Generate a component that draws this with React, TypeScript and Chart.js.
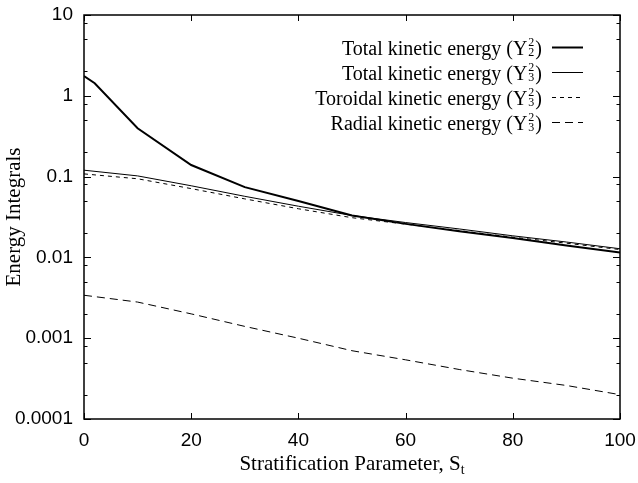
import { useEffect, useRef } from 'react';
import { Chart, registerables } from 'chart.js';

Chart.register(...registerables);

// ---- data ----
const sValuesY22 = [0, 2, 10, 20, 30, 40, 50, 60, 70, 80, 90, 100];
const totalY22 = [1.76, 1.43, 0.396, 0.139, 0.074, 0.05, 0.033, 0.026, 0.021, 0.0174, 0.014, 0.0115];

const sValuesY32 = [0, 10, 20, 30, 40, 50, 60, 70, 80, 90, 100];
const totalY32 = [0.12, 0.102, 0.077, 0.057, 0.043, 0.033, 0.027, 0.0225, 0.0185, 0.0155, 0.0128];
const toroidalY32 = [0.108, 0.094, 0.071, 0.053, 0.04, 0.031, 0.0258, 0.0215, 0.0178, 0.015, 0.0125];
const radialY32 = [0.0034, 0.0028, 0.002, 0.0014, 0.001, 0.0007, 0.00054, 0.00041, 0.00032, 0.00026, 0.0002];

const xTickValues = [0, 20, 40, 60, 80, 100];
const yTickValues = [0.0001, 0.001, 0.01, 0.1, 1, 10];
const yTickLabels = ['0.0001', '0.001', '0.01', '0.1', '1', '10'];
const yMinorMultipliers = [2, 5, 8];

const legendNames = [
  'Total kinetic energy',
  'Total kinetic energy',
  'Toroidal kinetic energy',
  'Radial kinetic energy',
];
const legendSup = ['2', '2', '2', '2'];
const legendSub = ['2', '3', '3', '3'];

const xTitleMain = 'Stratification Parameter, S';
const xTitleSub = 't';
const yTitle = 'Energy Integrals';

const SANS = '"Liberation Sans", Arial, sans-serif';
const SERIF = '"Liberation Serif", "Times New Roman", serif';

const lineWidths = [2, 1, 1, 1];
const lineDashes: number[][] = [[], [], [4, 4], [8, 5]];

const framePlugin = {
  id: 'framePlugin',
  afterDraw(chart: any) {
    const { ctx, chartArea: a, scales } = chart;
    const xs = scales.x;
    const ys = scales.y;
    ctx.save();
    ctx.strokeStyle = '#000';
    ctx.setLineDash([]);
    // ticks
    ctx.lineWidth = 1;
    ctx.beginPath();
    for (const v of xTickValues) {
      const px = Math.round(xs.getPixelForValue(v)) + 0.5;
      ctx.moveTo(px, a.bottom);
      ctx.lineTo(px, a.bottom - 6);
      ctx.moveTo(px, a.top);
      ctx.lineTo(px, a.top + 6);
    }
    for (const v of yTickValues) {
      const py = Math.round(ys.getPixelForValue(v)) + 0.5;
      ctx.moveTo(a.left, py);
      ctx.lineTo(a.left + 7, py);
      ctx.moveTo(a.right, py);
      ctx.lineTo(a.right - 7, py);
      for (const m of yMinorMultipliers) {
        const mv = v * m;
        if (mv >= 10) continue;
        const my = Math.round(ys.getPixelForValue(mv)) + 0.5;
        ctx.moveTo(a.left, my);
        ctx.lineTo(a.left + 3.5, my);
        ctx.moveTo(a.right, my);
        ctx.lineTo(a.right - 3.5, my);
      }
    }
    ctx.stroke();
    // frame
    ctx.lineWidth = 1.5;
    ctx.strokeRect(a.left, a.top, a.right - a.left, a.bottom - a.top);

    // legend
    const textRight = a.right - 78;
    const sampleL = a.right - 68;
    const sampleR = a.right - 37;
    ctx.fillStyle = '#000';
    ctx.textBaseline = 'alphabetic';
    for (let i = 0; i < legendNames.length; i++) {
      const ly = a.top + 32 + i * 25;
      const base = ly + 8;
      ctx.font = `20px ${SERIF}`;
      ctx.textAlign = 'right';
      const wParen = ctx.measureText(')').width;
      ctx.fillText(')', textRight, base);
      ctx.font = `12px ${SERIF}`;
      const wSup = Math.max(ctx.measureText(legendSup[i]).width, ctx.measureText(legendSub[i]).width);
      const scX = textRight - wParen - 1;
      ctx.fillText(legendSup[i], scX, base - 9);
      ctx.fillText(legendSub[i], scX, base + 1);
      ctx.font = `20px ${SERIF}`;
      ctx.fillText(legendNames[i] + ' (Y', scX - wSup - 1, base);
      // sample
      ctx.beginPath();
      ctx.lineWidth = lineWidths[i];
      ctx.setLineDash(lineDashes[i]);
      ctx.moveTo(sampleL, ly + 0.5);
      ctx.lineTo(sampleR, ly + 0.5);
      ctx.stroke();
    }
    ctx.setLineDash([]);

    // x title
    ctx.font = `21px ${SERIF}`;
    const wMain = ctx.measureText(xTitleMain).width;
    ctx.font = `14px ${SERIF}`;
    const wSubT = ctx.measureText(xTitleSub).width;
    const cx = (a.left + a.right) / 2;
    const start = cx - (wMain + wSubT) / 2;
    ctx.textAlign = 'left';
    ctx.font = `21px ${SERIF}`;
    ctx.fillText(xTitleMain, start, a.bottom + 51);
    ctx.font = `14px ${SERIF}`;
    ctx.fillText(xTitleSub, start + wMain, a.bottom + 55);
    ctx.restore();
  },
};

export default function App() {
  const ref = useRef<HTMLCanvasElement | null>(null);
  useEffect(() => {
    document.body.style.margin = '0';
    const canvas = ref.current;
    if (!canvas) return;
    const mk = (xsArr: number[], ys: number[]) => xsArr.map((x, i) => ({ x, y: ys[i] }));
    const chart = new Chart(canvas, {
      type: 'line',
      data: {
        datasets: [
          {
            label: 'Total kinetic energy (Y22)',
            data: mk(sValuesY22, totalY22),
            borderColor: '#000',
            borderWidth: lineWidths[0],
            borderDash: lineDashes[0],
            pointRadius: 0,
            tension: 0,
            fill: false,
          },
          {
            label: 'Total kinetic energy (Y32)',
            data: mk(sValuesY32, totalY32),
            borderColor: '#000',
            borderWidth: lineWidths[1],
            borderDash: lineDashes[1],
            pointRadius: 0,
            tension: 0,
            fill: false,
          },
          {
            label: 'Toroidal kinetic energy (Y32)',
            data: mk(sValuesY32, toroidalY32),
            borderColor: '#000',
            borderWidth: lineWidths[2],
            borderDash: lineDashes[2],
            pointRadius: 0,
            tension: 0,
            fill: false,
          },
          {
            label: 'Radial kinetic energy (Y32)',
            data: mk(sValuesY32, radialY32),
            borderColor: '#000',
            borderWidth: lineWidths[3],
            borderDash: lineDashes[3],
            pointRadius: 0,
            tension: 0,
            fill: false,
          },
        ],
      },
      options: {
        responsive: false,
        animation: false,
        events: [],
        layout: { padding: { top: 15, right: 18, left: 0, bottom: 0 } },
        plugins: {
          legend: { display: false },
          tooltip: { enabled: false },
        },
        scales: {
          x: {
            type: 'linear',
            min: 0,
            max: 100,
            afterBuildTicks: (scale: any) => {
              scale.ticks = xTickValues.map((v) => ({ value: v }));
            },
            afterFit: (scale: any) => {
              scale.height = 64;
              scale.paddingLeft = 0;
              scale.paddingRight = 0;
            },
            grid: { display: false, drawTicks: false },
            border: { display: false },
            ticks: {
              autoSkip: false,
              maxRotation: 0,
              padding: 10,
              color: '#000',
              font: { family: SANS, size: 19 },
            },
          },
          y: {
            type: 'logarithmic',
            min: 0.0001,
            max: 10,
            afterBuildTicks: (scale: any) => {
              scale.ticks = yTickValues.map((v) => ({ value: v }));
            },
            afterFit: (scale: any) => {
              scale.width = 84;
              scale.paddingTop = 0;
              scale.paddingBottom = 0;
            },
            grid: { display: false, drawTicks: false },
            border: { display: false },
            ticks: {
              autoSkip: false,
              padding: 11,
              color: '#000',
              font: { family: SANS, size: 19 },
              callback: (_v: any, i: number) => yTickLabels[i],
            },
            title: {
              display: true,
              text: yTitle,
              color: '#000',
              font: { family: SERIF, size: 21, weight: 'normal' },
              padding: { top: 2, bottom: 0 },
            },
          },
        },
      },
      plugins: [framePlugin],
    });
    return () => chart.destroy();
  }, []);
  return (
    <div style={{ width: 638, height: 483, background: '#fff' }}>
      <canvas ref={ref} width={638} height={483} />
    </div>
  );
}
